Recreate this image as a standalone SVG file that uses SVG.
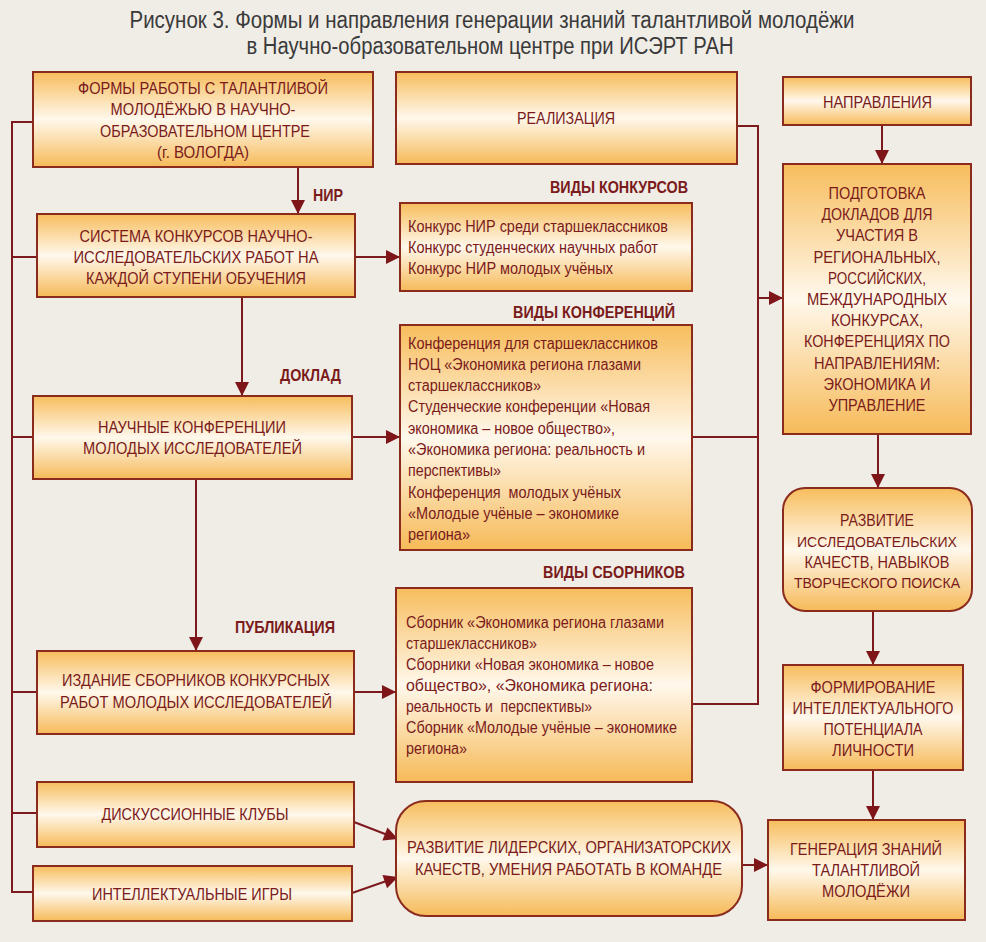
<svg xmlns="http://www.w3.org/2000/svg" width="986" height="942" viewBox="0 0 986 942">
<defs>
<linearGradient id="g" x1="0" y1="0" x2="0" y2="1">
<stop offset="0" stop-color="#f7bd5c"/>
<stop offset="0.5" stop-color="#fff8ec"/>
<stop offset="1" stop-color="#f6ba58"/>
</linearGradient>
<marker id="a" viewBox="0 0 10 10" refX="10" refY="5" markerWidth="15" markerHeight="14" markerUnits="userSpaceOnUse" orient="auto">
<path d="M0,0 L10,5 L0,10 z" fill="#7d1519"/>
</marker>
<style>
.bx{fill:url(#g);stroke:#8a2b1e;stroke-width:2}
.t{font-family:"Liberation Sans Narrow","Liberation Sans",Arial,sans-serif;fill:#7a1a1a;font-size:17px}
.c{text-anchor:middle}
.l{font-size:16px}
.s{font-size:15px}
.b{font-weight:bold}
.ti{font-family:"Liberation Sans Narrow","Liberation Sans",Arial,sans-serif;fill:#3a3a3a;font-size:23px;text-anchor:middle}
.ln{fill:none;stroke:#7d1a1e;stroke-width:2}
.ar{fill:none;stroke:#7d1a1e;stroke-width:2;marker-end:url(#a)}
</style>
</defs>
<rect width="986" height="942" fill="#f0ece6"/>

<g id="title">
<text class="ti" x="492" y="28" textLength="725" lengthAdjust="spacingAndGlyphs">Рисунок 3. Формы и направления генерации знаний талантливой молодёжи</text>
<text class="ti" x="490" y="54" textLength="487" lengthAdjust="spacingAndGlyphs">в Научно-образовательном центре при ИСЭРТ РАН</text>
</g>

<g id="connectors">
<polyline class="ln" points="33,122 12,122 12,892 33,892"/>
<line class="ln" x1="12" y1="257" x2="37" y2="257"/>
<line class="ln" x1="12" y1="437" x2="33" y2="437"/>
<line class="ln" x1="12" y1="692" x2="37" y2="692"/>
<line class="ln" x1="12" y1="813" x2="37" y2="813"/>
<line class="ar" x1="298" y1="167" x2="298" y2="214"/>
<line class="ar" x1="355" y1="257" x2="400" y2="257"/>
<line class="ar" x1="242" y1="297" x2="242" y2="396"/>
<line class="ar" x1="352" y1="437" x2="400" y2="437"/>
<line class="ar" x1="196" y1="479" x2="196" y2="651"/>
<line class="ar" x1="354" y1="692" x2="396" y2="692"/>
<line class="ar" x1="354" y1="822" x2="398" y2="839"/>
<line class="ar" x1="352" y1="893" x2="398" y2="877"/>
<polyline class="ln" points="737,126 758,126 758,704 692,704"/>
<line class="ln" x1="692" y1="437" x2="758" y2="437"/>
<line class="ar" x1="758" y1="298" x2="783" y2="298"/>
<line class="ar" x1="882" y1="125" x2="882" y2="164"/>
<line class="ar" x1="878" y1="434" x2="878" y2="488"/>
<line class="ar" x1="873" y1="611" x2="873" y2="665"/>
<line class="ar" x1="873" y1="770" x2="873" y2="820"/>
<line class="ar" x1="742" y1="865" x2="768" y2="865"/>
</g>

<g id="labels">
<text class="t b" x="313" y="201" textLength="30" lengthAdjust="spacingAndGlyphs">НИР</text>
<text class="t b" x="280" y="381" textLength="61" lengthAdjust="spacingAndGlyphs">ДОКЛАД</text>
<text class="t b" x="235" y="633" textLength="100" lengthAdjust="spacingAndGlyphs">ПУБЛИКАЦИЯ</text>
<text class="t b" x="550" y="193" textLength="138" lengthAdjust="spacingAndGlyphs">ВИДЫ КОНКУРСОВ</text>
<text class="t b" x="513" y="318" textLength="162" lengthAdjust="spacingAndGlyphs">ВИДЫ КОНФЕРЕНЦИЙ</text>
<text class="t b" x="543" y="578" textLength="142" lengthAdjust="spacingAndGlyphs">ВИДЫ СБОРНИКОВ</text>
</g>

<g id="forms">
<rect class="bx" x="33" y="72" width="340" height="95"/>
<text class="t c" x="203" y="93.5" textLength="250" lengthAdjust="spacingAndGlyphs">ФОРМЫ РАБОТЫ С ТАЛАНТЛИВОЙ</text>
<text class="t c" x="203" y="115" textLength="185" lengthAdjust="spacingAndGlyphs">МОЛОДЁЖЬЮ В НАУЧНО-</text>
<text class="t c" x="205" y="136.5" textLength="210" lengthAdjust="spacingAndGlyphs">ОБРАЗОВАТЕЛЬНОМ ЦЕНТРЕ</text>
<text class="t c" x="203" y="158" textLength="92" lengthAdjust="spacingAndGlyphs">(г. ВОЛОГДА)</text>
</g>

<g id="contests">
<rect class="bx" x="37" y="214" width="318" height="83"/>
<text class="t c" x="196" y="242" textLength="233" lengthAdjust="spacingAndGlyphs">СИСТЕМА КОНКУРСОВ НАУЧНО-</text>
<text class="t c" x="196" y="263" textLength="245" lengthAdjust="spacingAndGlyphs">ИССЛЕДОВАТЕЛЬСКИХ РАБОТ НА</text>
<text class="t c" x="196" y="283.5" textLength="220" lengthAdjust="spacingAndGlyphs">КАЖДОЙ СТУПЕНИ ОБУЧЕНИЯ</text>
</g>

<g id="conferences">
<rect class="bx" x="33" y="396" width="319" height="83"/>
<text class="t c" x="192" y="433" textLength="188" lengthAdjust="spacingAndGlyphs">НАУЧНЫЕ КОНФЕРЕНЦИИ</text>
<text class="t c" x="192.5" y="453.5" textLength="219" lengthAdjust="spacingAndGlyphs">МОЛОДЫХ ИССЛЕДОВАТЕЛЕЙ</text>
</g>

<g id="publishing">
<rect class="bx" x="37" y="651" width="317" height="83"/>
<text class="t c" x="196" y="686" textLength="268" lengthAdjust="spacingAndGlyphs">ИЗДАНИЕ СБОРНИКОВ КОНКУРСНЫХ</text>
<text class="t c" x="196" y="708" textLength="272" lengthAdjust="spacingAndGlyphs">РАБОТ МОЛОДЫХ ИССЛЕДОВАТЕЛЕЙ</text>
</g>

<g id="clubs">
<rect class="bx" x="37" y="782" width="317" height="65"/>
<text class="t c" x="195" y="819.5" textLength="187" lengthAdjust="spacingAndGlyphs">ДИСКУССИОННЫЕ КЛУБЫ</text>
</g>

<g id="games">
<rect class="bx" x="33" y="866" width="319" height="55"/>
<text class="t c" x="192" y="899.5" textLength="200" lengthAdjust="spacingAndGlyphs">ИНТЕЛЛЕКТУАЛЬНЫЕ ИГРЫ</text>
</g>

<g id="realization">
<rect class="bx" x="396" y="72" width="341" height="92"/>
<text class="t c" x="566" y="123.5" textLength="98" lengthAdjust="spacingAndGlyphs">РЕАЛИЗАЦИЯ</text>
</g>

<g id="contest-types">
<rect class="bx" x="400" y="203" width="292" height="88"/>
<text class="t l" x="408" y="231.5" textLength="260" lengthAdjust="spacingAndGlyphs">Конкурс НИР среди старшеклассников</text>
<text class="t l" x="408" y="252.5" textLength="250" lengthAdjust="spacingAndGlyphs">Конкурс студенческих научных работ</text>
<text class="t l" x="408" y="273.5" textLength="205" lengthAdjust="spacingAndGlyphs">Конкурс НИР молодых учёных</text>
</g>

<g id="conference-types">
<rect class="bx" x="400" y="325" width="292" height="225"/>
<text class="t l" x="408" y="348.5" textLength="250" lengthAdjust="spacingAndGlyphs">Конференция для старшеклассников</text>
<text class="t l" x="408" y="369.8" textLength="233" lengthAdjust="spacingAndGlyphs">НОЦ «Экономика региона глазами</text>
<text class="t l" x="408" y="391.1" textLength="133" lengthAdjust="spacingAndGlyphs">старшеклассников»</text>
<text class="t l" x="408" y="412.4" textLength="242" lengthAdjust="spacingAndGlyphs">Студенческие конференции «Новая</text>
<text class="t l" x="408" y="433.7" textLength="207" lengthAdjust="spacingAndGlyphs">экономика – новое общество»,</text>
<text class="t l" x="408" y="455" textLength="237" lengthAdjust="spacingAndGlyphs">«Экономика региона: реальность и</text>
<text class="t l" x="408" y="476.3" textLength="93" lengthAdjust="spacingAndGlyphs">перспективы»</text>
<text class="t l" x="408" y="497.6" textLength="213" lengthAdjust="spacingAndGlyphs" xml:space="preserve">Конференция  молодых учёных</text>
<text class="t l" x="408" y="518.9" textLength="211" lengthAdjust="spacingAndGlyphs">«Молодые учёные – экономике</text>
<text class="t l" x="408" y="540.2" textLength="62" lengthAdjust="spacingAndGlyphs">региона»</text>
</g>

<g id="collection-types">
<rect class="bx" x="396" y="588" width="296" height="194"/>
<text class="t l" x="406" y="627.5" textLength="258" lengthAdjust="spacingAndGlyphs">Сборник «Экономика региона глазами</text>
<text class="t l" x="406" y="648.6" textLength="131" lengthAdjust="spacingAndGlyphs">старшеклассников»</text>
<text class="t l" x="406" y="669.7" textLength="248" lengthAdjust="spacingAndGlyphs">Сборники «Новая экономика – новое</text>
<text class="t l" x="406" y="690.8" textLength="247" lengthAdjust="spacingAndGlyphs">общество», «Экономика региона:</text>
<text class="t l" x="406" y="711.9" textLength="186" lengthAdjust="spacingAndGlyphs" xml:space="preserve">реальность и  перспективы»</text>
<text class="t l" x="406" y="733" textLength="271" lengthAdjust="spacingAndGlyphs">Сборник «Молодые учёные – экономике</text>
<text class="t l" x="406" y="754.1" textLength="61" lengthAdjust="spacingAndGlyphs">региона»</text>
</g>

<g id="leadership">
<rect class="bx" x="396" y="801" width="346" height="115" rx="30" ry="30"/>
<text class="t c" x="569" y="853" textLength="324" lengthAdjust="spacingAndGlyphs">РАЗВИТИЕ ЛИДЕРСКИХ, ОРГАНИЗАТОРСКИХ</text>
<text class="t c" x="568.5" y="875" textLength="307" lengthAdjust="spacingAndGlyphs">КАЧЕСТВ, УМЕНИЯ РАБОТАТЬ В КОМАНДЕ</text>
</g>

<g id="directions">
<rect class="bx" x="783" y="77" width="188" height="48"/>
<text class="t c" x="877.5" y="108" textLength="109" lengthAdjust="spacingAndGlyphs">НАПРАВЛЕНИЯ</text>
</g>

<g id="preparation">
<rect class="bx" x="783" y="164" width="188" height="270"/>
<text class="t c" x="877" y="199" textLength="97" lengthAdjust="spacingAndGlyphs">ПОДГОТОВКА</text>
<text class="t c" x="877" y="220.2" textLength="111" lengthAdjust="spacingAndGlyphs">ДОКЛАДОВ ДЛЯ</text>
<text class="t c" x="877" y="241.4" textLength="82" lengthAdjust="spacingAndGlyphs">УЧАСТИЯ В</text>
<text class="t c" x="877" y="262.6" textLength="127" lengthAdjust="spacingAndGlyphs">РЕГИОНАЛЬНЫХ,</text>
<text class="t c" x="877" y="283.8" textLength="98" lengthAdjust="spacingAndGlyphs">РОССИЙСКИХ,</text>
<text class="t c" x="877" y="305" textLength="140" lengthAdjust="spacingAndGlyphs">МЕЖДУНАРОДНЫХ</text>
<text class="t c" x="877" y="326.2" textLength="92" lengthAdjust="spacingAndGlyphs">КОНКУРСАХ,</text>
<text class="t c" x="877" y="347.4" textLength="146" lengthAdjust="spacingAndGlyphs">КОНФЕРЕНЦИЯХ ПО</text>
<text class="t c" x="877" y="368.6" textLength="126" lengthAdjust="spacingAndGlyphs">НАПРАВЛЕНИЯМ:</text>
<text class="t c" x="877" y="389.8" textLength="107" lengthAdjust="spacingAndGlyphs">ЭКОНОМИКА И</text>
<text class="t c" x="877" y="411" textLength="97" lengthAdjust="spacingAndGlyphs">УПРАВЛЕНИЕ</text>
</g>

<g id="research-skills">
<rect class="bx" x="783" y="488" width="189" height="123" rx="22" ry="22"/>
<text class="t c" x="877" y="526" textLength="74" lengthAdjust="spacingAndGlyphs">РАЗВИТИЕ</text>
<text class="t c s" x="877" y="547" textLength="160" lengthAdjust="spacingAndGlyphs">ИССЛЕДОВАТЕЛЬСКИХ</text>
<text class="t c" x="877" y="568" textLength="145" lengthAdjust="spacingAndGlyphs">КАЧЕСТВ, НАВЫКОВ</text>
<text class="t c s" x="877" y="588" textLength="166" lengthAdjust="spacingAndGlyphs">ТВОРЧЕСКОГО ПОИСКА</text>
</g>

<g id="potential">
<rect class="bx" x="783" y="665" width="180" height="105"/>
<text class="t c" x="873" y="693" textLength="125" lengthAdjust="spacingAndGlyphs">ФОРМИРОВАНИЕ</text>
<text class="t c" x="873" y="714" textLength="161" lengthAdjust="spacingAndGlyphs">ИНТЕЛЛЕКТУАЛЬНОГО</text>
<text class="t c" x="873" y="735" textLength="99" lengthAdjust="spacingAndGlyphs">ПОТЕНЦИАЛА</text>
<text class="t c" x="873" y="756" textLength="82" lengthAdjust="spacingAndGlyphs">ЛИЧНОСТИ</text>
</g>

<g id="generation">
<rect class="bx" x="768" y="820" width="197" height="100"/>
<text class="t c" x="866" y="855" textLength="152" lengthAdjust="spacingAndGlyphs">ГЕНЕРАЦИЯ ЗНАНИЙ</text>
<text class="t c" x="866" y="876" textLength="108" lengthAdjust="spacingAndGlyphs">ТАЛАНТЛИВОЙ</text>
<text class="t c" x="866" y="897" textLength="88" lengthAdjust="spacingAndGlyphs">МОЛОДЁЖИ</text>
</g>
</svg>
